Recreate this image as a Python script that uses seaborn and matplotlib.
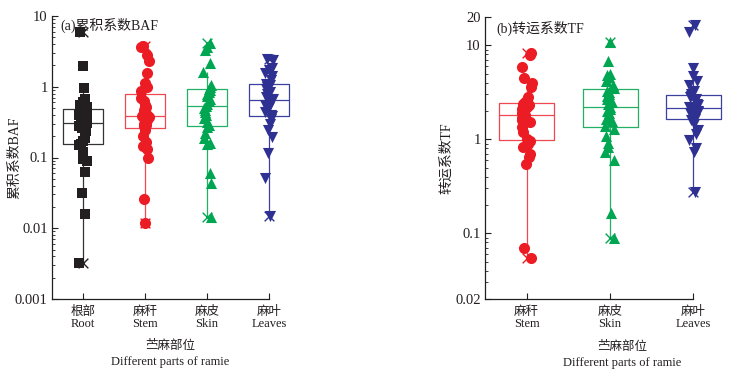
import numpy as np
import pandas as pd
import matplotlib
matplotlib.use('Agg')
import matplotlib.pyplot as plt
import seaborn as sns
from matplotlib.ticker import FixedLocator, LogLocator, NullFormatter

# categories (x tick labels)
parts_baf = ['根部\nRoot', '麻秆\nStem', '麻皮\nSkin', '麻叶\nLeaves']
parts_tf = ['麻秆\nStem', '麻皮\nSkin', '麻叶\nLeaves']

# (a) bioaccumulation factor BAF
baf_root = [0.0032, 0.016, 0.032, 0.063, 0.088, 0.095, 0.12, 0.15, 0.156, 0.17, 0.19,
            0.24, 0.26, 0.28, 0.30, 0.31, 0.33, 0.35, 0.37, 0.40, 0.43, 0.45, 0.47,
            0.49, 0.52, 0.56, 0.60, 0.68, 0.95, 1.96, 6.0]
baf_stem = [0.0117, 0.026, 0.098, 0.13, 0.145, 0.167, 0.20, 0.245, 0.275, 0.29, 0.30,
            0.32, 0.34, 0.36, 0.37, 0.386, 0.40, 0.43, 0.47, 0.52, 0.55, 0.62, 0.70,
            0.88, 1.0, 1.12, 1.58, 2.33, 2.81, 3.6, 3.77]
baf_skin = [0.0146, 0.043, 0.06, 0.155, 0.16, 0.19, 0.22, 0.27, 0.29, 0.32, 0.36,
            0.40, 0.44, 0.47, 0.50, 0.53, 0.57, 0.62, 0.68, 0.74, 0.80, 0.85, 0.90,
            0.94, 0.98, 1.06, 1.63, 2.14, 3.3, 3.6, 4.1]
baf_leaves = [0.0149, 0.051, 0.115, 0.197, 0.245, 0.30, 0.35, 0.38, 0.40, 0.44, 0.48,
              0.52, 0.56, 0.60, 0.63, 0.65, 0.68, 0.72, 0.78, 0.84, 0.92, 1.0, 1.06,
              1.10, 1.24, 1.40, 1.55, 1.73, 1.85, 2.4, 2.44]

# (b) translocation factor TF
tf_stem = [0.055, 0.069, 0.54, 0.65, 0.70, 0.83, 0.90, 0.96, 1.0, 1.2, 1.35, 1.5,
           1.54, 1.6, 1.7, 1.81, 1.9, 2.0, 2.1, 2.2, 2.3, 2.35, 2.4, 2.5, 2.84, 3.63,
           4.0, 4.45, 5.9, 7.9, 8.2]
tf_skin = [0.0885, 0.163, 0.60, 0.74, 0.82, 0.91, 1.08, 1.3, 1.4, 1.55, 1.65, 1.74,
           1.9, 2.0, 2.1, 2.22, 2.35, 2.5, 2.7, 2.9, 3.05, 3.2, 3.3, 3.5, 3.78, 4.2,
           4.6, 4.83, 4.9, 6.8, 10.9]
tf_leaves = [0.277, 0.74, 0.80, 0.98, 1.15, 1.26, 1.45, 1.6, 1.66, 1.75, 1.85, 1.9,
             1.95, 2.0, 2.08, 2.14, 2.2, 2.3, 2.4, 2.55, 2.7, 2.8, 2.9, 3.06, 3.3, 3.8,
             4.2, 4.7, 5.7, 14.0, 16.4]

point_colors = ['#231f20', '#ec1c24', '#00a651', '#2e3192']
box_colors = ['#333333', '#f04850', '#22b064', '#3c41a0']
markers = ['s', 'o', '^', 'v']
sizes = [6.5, 8, 8, 8]

text_color = '#231f20'

sns.set_style('ticks')
plt.rcParams['font.family'] = ['Liberation Serif', 'Noto Sans CJK SC', 'DejaVu Sans']
plt.rcParams['axes.unicode_minus'] = False

np.random.seed(7)


def draw_panel(ax, groups, parts, pcols, bcols, marks, msizes, jitter):
    df = pd.DataFrame({
        'part': np.repeat(parts, [len(g) for g in groups]),
        'value': np.concatenate(groups),
    })
    # boxes computed on linear values, whiskers at 1.5 IQR
    sns.boxplot(data=df, x='part', y='value', order=parts, hue='part',
                hue_order=parts, palette=bcols, fill=False, width=0.66,
                whis=1.5, showfliers=False, linewidth=0.9, legend=False,
                capprops={'visible': False}, ax=ax)
    for p, c, m, s in zip(parts, pcols, marks, msizes):
        sub = df[df['part'] == p]
        sns.stripplot(data=sub, x='part', y='value', order=parts, color=c,
                      marker=m, size=s, jitter=jitter, linewidth=0, zorder=3,
                      ax=ax)
        # x marks at min and max
        ext = pd.DataFrame({'part': [p, p],
                            'value': [sub['value'].min(), sub['value'].max()]})
        sns.stripplot(data=ext, x='part', y='value', order=parts, color=c,
                      marker='x', size=7, jitter=False, linewidth=1.0,
                      zorder=4, ax=ax)
    ax.set_yscale('log')


fig = plt.figure(figsize=(7.34, 3.72), dpi=100)
ax1 = fig.add_axes([52 / 734, 73 / 372, 248 / 734, 283 / 372])
ax2 = fig.add_axes([485 / 734, 73 / 372, 250 / 734, 282 / 372])

draw_panel(ax1, [baf_root, baf_stem, baf_skin, baf_leaves], parts_baf,
           point_colors, box_colors, markers, sizes, 0.07)
draw_panel(ax2, [tf_stem, tf_skin, tf_leaves], parts_tf,
           point_colors[1:], box_colors[1:], markers[1:], sizes[1:], 0.06)

ax1.set_xlim(-0.5, 3.5)
ax1.set_ylim(0.001, 10)
ax2.set_xlim(-0.5, 2.5)
ax2.set_ylim(0.02, 20)

yt1 = [0.001, 0.01, 0.1, 1, 10]
yt1_labels = ['0.001', '0.01', '0.1', '1', '10']
yt2 = [0.02, 0.1, 1, 10, 20]
yt2_labels = ['0.02', '0.1', '1', '10', '20']

for ax, yt, ytl, n in [(ax1, yt1, yt1_labels, 4), (ax2, yt2, yt2_labels, 3)]:
    ax.yaxis.set_major_locator(FixedLocator(yt))
    ax.set_yticklabels(ytl)
    ax.yaxis.set_minor_locator(LogLocator(base=10, subs=np.arange(2, 10) * 1.0,
                                          numticks=20))
    ax.yaxis.set_minor_formatter(NullFormatter())
    ax.spines['top'].set_visible(False)
    ax.spines['right'].set_visible(False)
    ax.spines['bottom'].set_bounds(-0.5, n - 1)
    for sp in ['left', 'bottom']:
        ax.spines[sp].set_linewidth(0.9)
        ax.spines[sp].set_color(text_color)
    ax.tick_params(axis='both', which='major', direction='in', length=4,
                   width=0.8, colors=text_color, labelsize=10.5, pad=3)
    ax.tick_params(axis='y', which='minor', direction='in', length=2.2,
                   width=0.6, colors=text_color)
    ax.tick_params(axis='x', labelsize=9, pad=5)
    for lab in ax.get_xticklabels():
        lab.set_linespacing(1.05)

ax1.set_ylabel('累积系数BAF', fontsize=10, color=text_color)
ax1.yaxis.set_label_coords(-0.122, 0.5)
ax2.set_ylabel('转运系数TF', fontsize=10, color=text_color)
ax2.yaxis.set_label_coords(-0.128, 0.5)

ax1.set_xlabel('苎麻部位\nDifferent parts of ramie', fontsize=9,
               color=text_color, linespacing=1.45)
ax1.xaxis.set_label_coords(0.476, -0.145)
ax2.set_xlabel('苎麻部位\nDifferent parts of ramie', fontsize=9,
               color=text_color, linespacing=1.45)
ax2.xaxis.set_label_coords(0.548, -0.15)

ax1.text(0.035, 0.995, '(a)累积系数BAF', transform=ax1.transAxes, fontsize=10,
         va='top', ha='left', color=text_color)
ax2.text(0.045, 0.985, '(b)转运系数TF', transform=ax2.transAxes, fontsize=10,
         va='top', ha='left', color=text_color)

fig.savefig('out.png', dpi=100)
